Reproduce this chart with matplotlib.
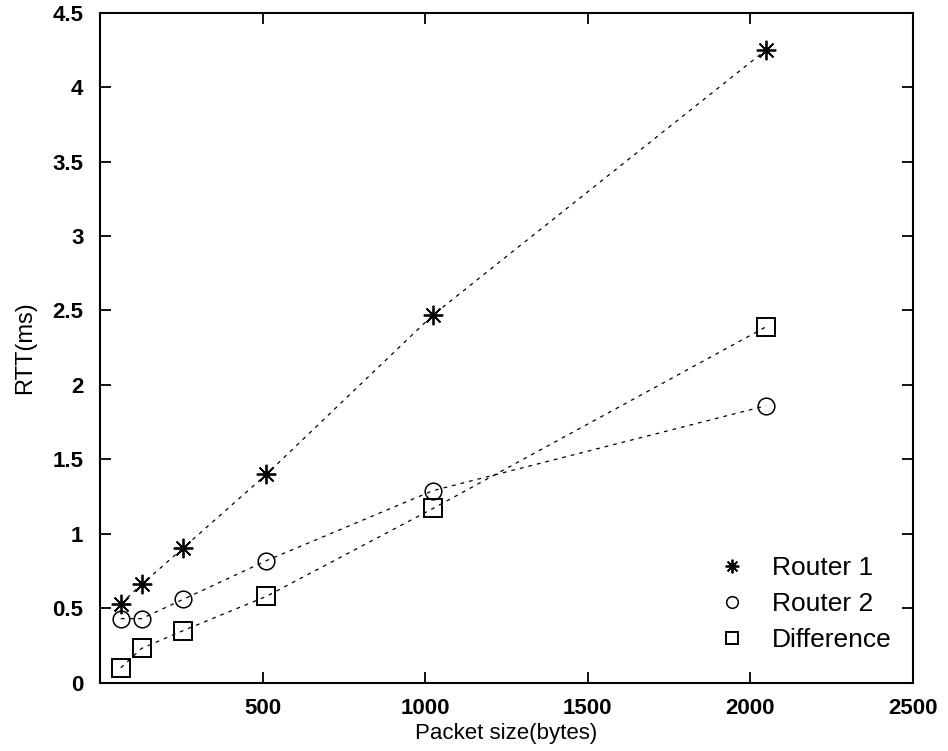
import numpy as np
import matplotlib
matplotlib.use('Agg')
import matplotlib.pyplot as plt

plt.rcParams['font.family'] = ['Liberation Sans', 'DejaVu Sans']

packet_size = [64, 128, 256, 512, 1024, 2048]
router1 = [0.53, 0.66, 0.905, 1.40, 2.47, 4.25]
router2 = [0.43, 0.43, 0.56, 0.82, 1.29, 1.86]
difference = [0.10, 0.23, 0.35, 0.58, 1.17, 2.39]

xticks = [500, 1000, 1500, 2000, 2500]
yticks = [0, 0.5, 1, 1.5, 2, 2.5, 3, 3.5, 4, 4.5]

fig = plt.figure(figsize=(9.48, 7.51), dpi=100)
ax = fig.add_axes([0.1055, 0.091, 0.8575, 0.892])

line_kw = dict(color='black', linestyle=(0, (3, 4)), linewidth=0.9)
ax.plot(packet_size, router1, marker=(8, 2, 0), markersize=14,
        markeredgecolor='black', markeredgewidth=1.3, label='Router 1', **line_kw)
ax.plot(packet_size, router2, marker='o', markersize=12, markerfacecolor='none',
        markeredgecolor='black', markeredgewidth=1.1, label='Router 2', **line_kw)
ax.plot(packet_size, difference, marker='s', markersize=13, markerfacecolor='none',
        markeredgecolor='black', markeredgewidth=1.4, label='Difference', **line_kw)

ax.set_xlim(0, 2500)
ax.set_ylim(0, 4.5)
ax.set_xticks(xticks)
ax.set_yticks(yticks)
ax.set_xticklabels([str(v) for v in xticks])
ax.set_yticklabels(['0', '0.5', '1', '1.5', '2', '2.5', '3', '3.5', '4', '4.5'])
ax.tick_params(direction='in', length=8, width=1.3, top=True, right=True,
               labelsize=16)
ax.tick_params(axis='x', pad=11)
ax.tick_params(axis='y', pad=12)
for lab in ax.get_xticklabels() + ax.get_yticklabels():
    lab.set_fontweight('bold')
for sp in ax.spines.values():
    sp.set_linewidth(1.5)

ax.set_xlabel('Packet size(bytes)', fontsize=16, labelpad=3)
ax.set_ylabel('RTT(ms)', fontsize=17, labelpad=12)

leg = ax.legend(loc='lower right', bbox_to_anchor=(1.003, 0.01), frameon=False,
                fontsize=19, handlelength=0, handletextpad=1.5, labelspacing=0.45,
                borderaxespad=0.5, markerscale=0.7)

fig.savefig('out.png', dpi=100)
